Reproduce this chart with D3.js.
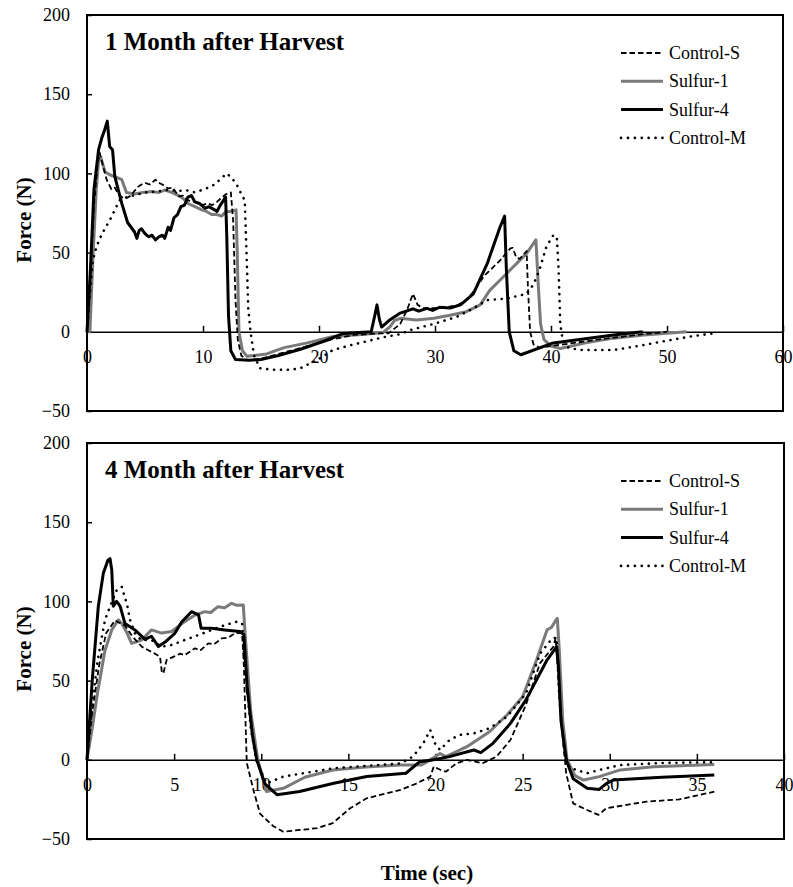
<!DOCTYPE html>
<html>
<head>
<meta charset="utf-8">
<script src="https://cdn.jsdelivr.net/npm/d3@7"></script>
<style>
    body { margin: 0; background: #fff; }
    svg text { font-family: "Liberation Serif", "Times New Roman", serif; fill: #000; }
</style>
</head>
<body>
<div id="forceChart"></div>
<script>
// series names and tick values
const seriesNames = ["Control-S", "Sulfur-1", "Sulfur-4", "Control-M"];
const forceTicks = [-50, 0, 50, 100, 150, 200];
const timeTicks1 = [0, 10, 20, 30, 40, 50, 60];
const timeTicks4 = [0, 5, 10, 15, 20, 25, 30, 35, 40];

// 1 month after harvest: [time (sec), force (N)]
const m1ControlS = [[0,0],[0.3,35],[0.6,80],[0.9,105],[1.1,113],[1.4,104],[1.7,96],[2.1,90],[2.4,91],[2.7,87],[3.0,85],[3.3,84],[3.8,86],[4.1,89],[4.4,91.5],[4.7,93],[5.0,94],[5.4,93],[5.9,96],[6.2,94],[6.5,93],[7.0,90.5],[7.4,91],[7.9,85.5],[8.3,86],[8.7,83],[9.3,82],[9.9,80],[10.4,81],[10.8,80],[11.2,82],[11.5,84],[12.0,87],[12.4,88],[12.6,70],[12.8,20],[13.0,-5],[13.3,-15],[13.8,-18],[15,-17],[17,-13],[19,-9],[21,-5],[23,-2],[25,-1],[26,-1],[27.0,5],[27.6,14],[28.1,24],[28.5,17],[29,15],[29.9,15],[31,15.5],[32,17],[32.7,20],[33.5,27],[34.2,35],[35.6,45],[36.5,52.7],[36.7,53],[37.0,47],[37.3,46],[37.9,51],[38.0,30],[38.2,0],[38.5,-8],[39.0,-10],[40,-9],[42,-7],[45,-4],[48,-1.5],[50,0]];
const m1Sulfur1 = [[0,0],[0.25,0],[0.5,45],[0.8,90],[1.0,108],[1.2,110],[1.55,101],[2.0,99],[2.4,98],[3.0,96],[3.4,88],[4.1,87],[4.8,88],[5.6,88.5],[6.2,88],[6.7,89.5],[7.3,88],[7.9,86],[8.3,84],[8.7,81],[9.3,79],[9.9,77],[10.3,76],[10.75,74],[11.2,74],[11.6,73],[12.0,76],[12.4,76],[12.85,77],[12.95,50],[13.1,0],[13.4,-12],[13.8,-15.5],[15.5,-14],[16.2,-12],[17.0,-10],[19.0,-7],[21.2,-3],[24.0,-1.5],[25.5,-0.5],[26.1,3],[26.5,7],[27.0,8.5],[28.4,7.5],[29.9,8.5],[31.3,10.5],[32.7,12.7],[33.9,17],[34.7,26],[36.2,37],[37.9,49.5],[38.7,58],[38.9,30],[39.1,5],[39.4,-5],[40.0,-9],[40.8,-10.5],[43,-7],[45.4,-4],[48,-2],[51.7,0]];
const m1Sulfur4 = [[0,0],[0.3,40],[0.6,90],[1.0,115],[1.3,123],[1.5,127],[1.75,133],[1.95,117],[2.2,115],[2.4,98],[3.0,81],[3.5,69],[3.8,66],[4.1,63],[4.3,59],[4.5,64],[4.7,65],[5.0,62],[5.3,60],[5.6,61],[5.9,58],[6.2,60],[6.5,61],[6.7,59],[7.0,66],[7.2,64],[7.5,72],[7.8,74],[8.1,79],[8.4,80],[8.7,85],[9.0,86],[9.3,82],[9.7,81],[10.2,78],[10.5,79],[11.0,77],[11.2,76],[11.5,80],[11.95,85],[12.05,60],[12.2,10],[12.4,-12],[12.8,-17.5],[14.0,-18],[15.0,-17.5],[16.5,-15],[18.4,-11],[20.6,-5.5],[22.1,-1],[24.5,0],[24.8,10],[25.0,17],[25.2,8],[25.4,3],[26.1,7.5],[27.0,11.8],[28.1,14.5],[28.6,13],[29.3,14.8],[29.8,13.5],[30.4,15.5],[31.3,15],[32.2,17],[33.3,24],[34.5,43],[35.6,66],[36.0,73],[36.15,40],[36.4,0],[36.8,-12],[37.4,-14.5],[40.2,-7],[45.4,-2],[47.9,0]];
const m1ControlM = [[0,0],[0.2,20],[0.5,45],[0.83,54],[1.3,62],[2.0,71],[2.8,83],[3.4,85],[4.0,86],[5.0,88],[6.0,88.5],[6.9,89.5],[8.0,89],[8.5,89.5],[9.3,88],[10.3,90.5],[11.0,93],[11.6,97],[12.04,100],[12.5,97],[12.9,93],[13.3,87],[13.6,83],[13.75,50],[13.9,15],[14.1,0],[14.4,-15],[14.9,-23],[16,-24],[17.5,-24],[18.4,-23],[19.8,-18],[21.2,-11.5],[22.7,-8.5],[24.1,-6],[25.5,-3.5],[27,-1.5],[27.8,1],[29.9,5],[31.9,9.5],[33.3,14.8],[34.5,20],[36.2,21],[37.9,24],[38.5,30],[39.0,39],[39.6,53.7],[40.2,61],[40.5,60],[40.65,40],[40.8,5],[41.0,-5],[41.5,-10],[42.5,-11.5],[45.4,-11.5],[47.5,-9],[49.7,-6],[52,-3],[54,-1]];

// 4 month after harvest: [time (sec), force (N)]
const m4ControlS = [[0,0],[0.3,30],[0.7,60],[1.1,80],[1.6,88],[2.2,84.5],[2.6,78],[3.14,71.4],[3.5,69.3],[3.9,67],[4.19,65],[4.3,55],[4.38,54.6],[4.57,63],[4.95,65],[5.35,67],[5.6,66],[6.2,70.4],[6.5,69],[6.96,73.5],[7.3,73],[7.73,76.7],[8.1,77],[8.5,80],[8.9,80],[9.0,60],[9.17,-2],[9.55,-19],[9.93,-34],[10.7,-42],[11.27,-45.4],[12.2,-44.3],[13.2,-43.2],[14.1,-40],[15.1,-30.6],[16.05,-24.3],[18,-19],[18.9,-15],[19.7,-10.6],[19.9,-4.3],[20.3,-6.4],[20.6,-7.5],[21.2,-2.2],[21.8,0],[22.7,-2.2],[23.5,2],[24.3,12.5],[25.2,35],[26.0,61],[26.76,71.4],[26.9,77],[27.0,60],[27.24,21],[27.5,-8.5],[27.9,-27.5],[28.7,-31.7],[29.35,-34.8],[29.8,-30.6],[32.1,-26.4],[34.0,-25],[36.0,-20.1]];
const m4Sulfur1 = [[0,0],[0.3,20],[0.6,42],[1.03,69],[1.42,82],[1.8,88.3],[2.0,86],[2.3,80],[2.56,73.5],[3.14,75.6],[3.7,82],[4.28,80],[4.86,81],[5.6,87.2],[6.2,91.4],[6.77,93.5],[7.1,93],[7.5,96.6],[7.9,96],[8.3,98.8],[8.6,97.5],[8.97,97.7],[9.07,80],[9.4,30],[9.8,0],[10.3,-20],[11.27,-18],[12.5,-11],[14.1,-6.4],[16,-4.5],[18,-3.3],[19.2,-3.3],[19.7,0],[20.26,4],[20.6,2],[21.8,8.3],[23.1,17.7],[24.1,28.3],[25.0,39.8],[25.8,63],[26.4,82],[26.65,83.5],[26.9,88],[26.99,89.3],[27.1,70],[27.3,25],[27.55,0],[28.0,-10],[28.5,-12.8],[29.4,-10.6],[30.6,-6.4],[32.5,-4.4],[36,-2.9]];
const m4Sulfur4 = [[0,0],[0.3,50],[0.65,97],[0.94,118],[1.2,126],[1.32,127],[1.42,120],[1.51,97],[1.7,100],[1.9,97],[2.18,86],[2.75,82],[3.33,76],[3.7,78],[4.1,71.5],[4.5,74.5],[5.05,80],[5.43,87],[6.0,93.5],[6.4,91.5],[6.55,83],[7.15,83],[7.9,82],[8.78,81],[9.0,79],[9.2,45],[9.5,15],[9.74,0],[10.2,-15],[10.9,-22],[12.2,-20],[14.1,-15],[16.05,-10.6],[18.3,-8.5],[19.1,-1.2],[19.9,0],[20.8,2],[22.2,6.2],[22.6,4.5],[23.3,10.4],[24.3,23],[25.2,38],[26.4,63],[26.95,71.4],[27.05,60],[27.2,25],[27.5,0],[27.9,-12],[28.7,-18],[29.4,-18.7],[29.8,-15],[30.2,-12.8],[33,-11],[36,-9.6]];
const m4ControlM = [[0,0],[0.3,35],[0.6,62],[1.03,88.3],[1.32,96.7],[1.7,107],[1.99,109.3],[2.3,98],[2.47,88.3],[2.75,80],[3.1,75.6],[3.7,75.6],[4.28,71.4],[4.86,72.5],[5.6,75.6],[6.4,78.8],[7.15,82],[7.9,85],[8.6,87.2],[8.9,86],[9.05,60],[9.4,20],[9.7,0],[10.3,-14.9],[11.27,-10.6],[14.1,-5.4],[18,-2.3],[18.7,2],[19.3,10.4],[19.7,18.8],[19.97,10.4],[20.26,6.2],[20.8,12.5],[21.4,15.7],[22.2,16.7],[23.1,19.9],[24.1,27.2],[25.2,42],[26.0,67],[26.7,76.7],[26.95,77],[27.1,40],[27.4,5],[27.7,-5],[28.7,-8.5],[29.4,-6.4],[30.6,-3.3],[33,-2],[36,-1.5]];

// line look for each series
const lineStyle = {
    "Control-S": { color: "#000", width: 1.8, dash: "5.5,3", cap: "butt" },
    "Sulfur-1": { color: "#7a7a7a", width: 3, dash: null, cap: "butt" },
    "Sulfur-4": { color: "#000", width: 3, dash: null, cap: "butt" },
    "Control-M": { color: "#000", width: 2.6, dash: "0.1,6.8", cap: "round" }
};
// draw order (back to front)
const drawOrder = ["Sulfur-1", "Control-M", "Control-S", "Sulfur-4"];

const svg = d3.select("#forceChart")
    .append("svg")
    .attr("width", 793)
    .attr("height", 887);

function drawPanel(p) {
    const x = d3.scaleLinear().domain([0, p.xMax]).range([p.left, p.right]);
    const y = d3.scaleLinear().domain([-50, 200]).range([p.bottom, p.top]);

    const g = svg.append("g");

    // frame
    g.append("rect")
        .attr("x", p.left)
        .attr("y", p.top)
        .attr("width", p.right - p.left)
        .attr("height", p.bottom - p.top)
        .attr("fill", "none")
        .attr("stroke", "#000")
        .attr("stroke-width", 2);

    // Y axis
    const yAxis = g.append("g")
        .attr("transform", "translate(" + p.left + ",0)")
        .call(d3.axisLeft(y).tickValues(forceTicks).tickSize(-5).tickPadding(17));
    yAxis.select(".domain").remove();
    yAxis.selectAll("line").attr("stroke", "#000").attr("stroke-width", 1.5);
    yAxis.selectAll("text").attr("font-size", "18px");

    // X axis crossing at zero force
    const xAxis = g.append("g")
        .attr("transform", "translate(0," + y(0) + ")")
        .call(d3.axisBottom(x).tickValues(p.xTicks).tickSize(-6).tickSizeOuter(0).tickPadding(18));
    xAxis.select(".domain").attr("stroke", "#000").attr("stroke-width", 1.6);
    xAxis.selectAll("line").attr("stroke", "#000").attr("stroke-width", 1.5);
    xAxis.selectAll("text").attr("font-size", "18px");

    // curves
    const line = d3.line().x(d => x(d[0])).y(d => y(d[1]));
    drawOrder.forEach(name => {
        const s = lineStyle[name];
        g.append("path")
            .datum(p.series[name])
            .attr("d", line)
            .attr("fill", "none")
            .attr("stroke", s.color)
            .attr("stroke-width", s.width)
            .attr("stroke-dasharray", s.dash)
            .attr("stroke-linecap", s.cap)
            .attr("stroke-linejoin", "round");
    });

    // title
    g.append("text")
        .attr("x", p.left + 18)
        .attr("y", p.top + 35)
        .attr("font-size", "25px")
        .attr("font-weight", "bold")
        .text(p.title);

    // y label
    g.append("text")
        .attr("transform", "translate(31," + p.labelY + ") rotate(-90)")
        .attr("text-anchor", "middle")
        .attr("font-size", "21px")
        .attr("font-weight", "bold")
        .text("Force (N)");

    // legend
    seriesNames.forEach((name, i) => {
        const s = lineStyle[name];
        const ly = p.top + 38 + i * 28.3;
        g.append("line")
            .attr("x1", 621).attr("x2", 663)
            .attr("y1", ly).attr("y2", ly)
            .attr("stroke", s.color)
            .attr("stroke-width", s.width)
            .attr("stroke-dasharray", s.dash)
            .attr("stroke-linecap", s.cap);
        g.append("text")
            .attr("x", 669)
            .attr("y", ly + 6)
            .attr("font-size", "18px")
            .text(name);
    });
}

drawPanel({
    left: 87, right: 783, top: 15, bottom: 411,
    xMax: 60, xTicks: timeTicks1,
    title: "1 Month after Harvest",
    labelY: 220,
    series: { "Control-S": m1ControlS, "Sulfur-1": m1Sulfur1, "Sulfur-4": m1Sulfur4, "Control-M": m1ControlM }
});

drawPanel({
    left: 87, right: 784, top: 443, bottom: 839,
    xMax: 40, xTicks: timeTicks4,
    title: "4 Month after Harvest",
    labelY: 649,
    series: { "Control-S": m4ControlS, "Sulfur-1": m4Sulfur1, "Sulfur-4": m4Sulfur4, "Control-M": m4ControlM }
});

// x axis label
svg.append("text")
    .attr("x", 427)
    .attr("y", 880)
    .attr("text-anchor", "middle")
    .attr("font-size", "21px")
    .attr("font-weight", "bold")
    .text("Time (sec)");
</script>
</body>
</html>
